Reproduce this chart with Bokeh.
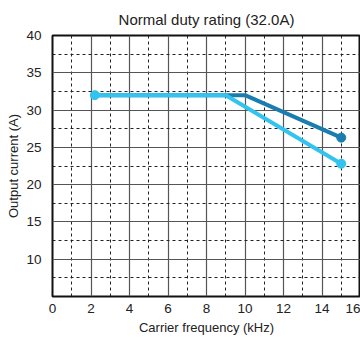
from bokeh.plotting import figure
from bokeh.models import FixedTicker, Range1d
from bokeh.embed import file_html
from bokeh.resources import INLINE

title = "Normal duty rating (32.0A)"
x_label = "Carrier frequency (kHz)"
y_label = "Output current (A)"

x_ticks = [0, 2, 4, 6, 8, 10, 12, 14, 16]
x_minor = [1, 3, 5, 7, 9, 11, 13, 15]
y_ticks = [10, 15, 20, 25, 30, 35, 40]
y_minor = [7.5, 12.5, 17.5, 22.5, 27.5, 32.5, 37.5]

dark_freq = [2.2, 10.0, 15.0]
dark_curr = [32.0, 32.0, 26.3]
light_freq = [2.2, 9.0, 15.0]
light_curr = [32.0, 32.0, 22.8]

dark_color = "#1a7db0"
light_color = "#33c3ef"

p = figure(width=360, height=337, output_backend="svg", toolbar_location=None,
           x_range=Range1d(0, 16), y_range=Range1d(5, 40),
           min_border_left=52, min_border_right=0, min_border_top=35, min_border_bottom=40)

p.title.text = title
p.title.align = "center"
p.title.text_font = "Liberation Sans"
p.title.text_font_size = "15px"
p.title.text_font_style = "normal"
p.title.text_color = "#222222"
p.title.standoff = 16

p.line(dark_freq, dark_curr, line_color=dark_color, line_width=4)
p.scatter(dark_freq[-1:], dark_curr[-1:], size=9, color=dark_color)
p.line(light_freq, light_curr, line_color=light_color, line_width=4)
p.scatter([light_freq[0], light_freq[-1]], [light_curr[0], light_curr[-1]], size=9, color=light_color)

p.xaxis.ticker = FixedTicker(ticks=x_ticks, minor_ticks=x_minor)
p.yaxis.ticker = FixedTicker(ticks=y_ticks, minor_ticks=y_minor)

for ax in (p.xaxis[0], p.yaxis[0]):
    ax.major_tick_line_color = None
    ax.minor_tick_line_color = None
    ax.axis_line_color = None
    ax.major_label_text_font = "Liberation Sans"
    ax.major_label_text_font_size = "13.5px"
    ax.major_label_text_color = "#222222"
    ax.axis_label_text_font = "Liberation Sans"
    ax.axis_label_text_font_size = "13px"
    ax.axis_label_text_font_style = "normal"
    ax.axis_label_text_color = "#222222"

p.xaxis.major_label_standoff = 1
p.yaxis.major_label_standoff = 5
p.xaxis.axis_label = x_label
p.yaxis.axis_label = y_label
p.xaxis.axis_label_standoff = 4
p.yaxis.axis_label_standoff = 2

for g in (p.xgrid[0], p.ygrid[0]):
    g.grid_line_color = "#555555"
    g.grid_line_width = 1.2
    g.grid_line_alpha = 1
    g.minor_grid_line_color = "#222222"
    g.minor_grid_line_dash = "3 3"
    g.minor_grid_line_width = 1

p.outline_line_color = "#111111"
p.outline_line_width = 2
p.background_fill_color = "white"
p.border_fill_color = "white"

open("out.html", "w").write(file_html(p, INLINE))
